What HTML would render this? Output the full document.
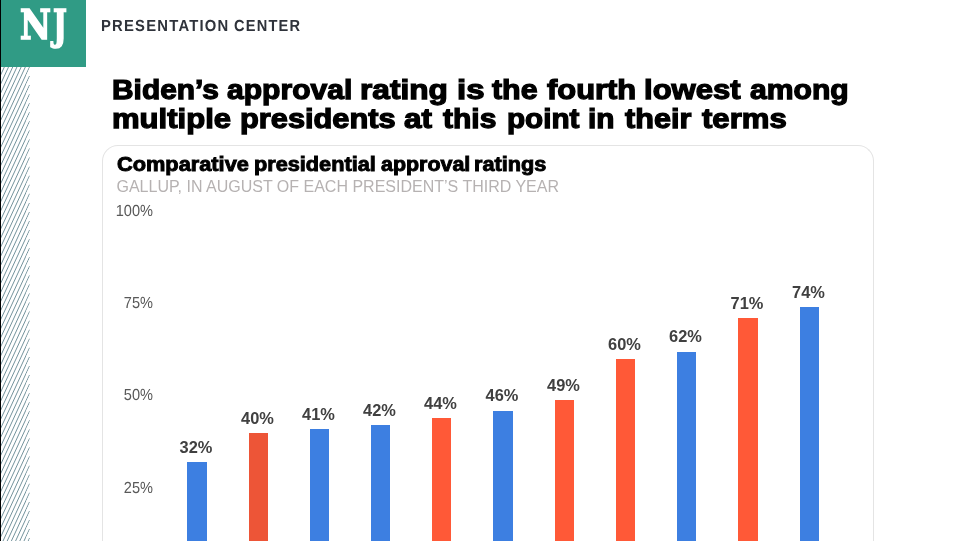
<!DOCTYPE html>
<html lang="en">
<head>
<meta charset="utf-8">
<title>Presentation Center</title>
<style>
html,body{margin:0;padding:0;}
html{width:961px;height:541px;overflow:hidden;}
body{width:961px;height:541px;overflow:hidden;background:#fff;position:relative;font-family:"Liberation Sans",Arial,sans-serif;}
.abs{position:absolute;}
#edge{left:0;top:0;width:1px;height:541px;background:#000;}
#hatch{left:0;top:67px;width:31px;height:474px;}
#logo{left:1px;top:0;width:85px;height:67px;background:#309b85;}
.nj{position:absolute;top:0;color:#fff;font:bold 41.5px/50px 'DejaVu Serif Condensed','DejaVu Serif','Liberation Serif',serif;-webkit-text-stroke:1.6px #fff;transform-origin:0 0;white-space:nowrap;}
.pc{position:absolute;top:15.5px;font:bold 16px/20px 'Liberation Sans',Arial,sans-serif;color:#2f333b;letter-spacing:1.3px;white-space:nowrap;transform-origin:0 0;}
.tw{position:absolute;white-space:nowrap;font:bold 27.5px/28.8px 'Liberation Sans',Arial,sans-serif;color:#000;-webkit-text-stroke:1.25px #000;transform-origin:0 0;}
#card{left:102px;top:145px;width:772px;height:396px;border:1px solid #e4e4e4;border-bottom:none;border-radius:16px 16px 0 0;box-sizing:border-box;}
.cw{position:absolute;white-space:nowrap;font:bold 19.6px/24px 'Liberation Sans',Arial,sans-serif;color:#000;-webkit-text-stroke:0.9px #000;transform-origin:0 0;}
#csub{left:116.5px;top:177px;font-size:16px;line-height:20px;color:#b6b2b2;white-space:nowrap;}
.yl{left:100px;width:53px;text-align:right;font-size:16.1px;line-height:16px;color:#595959;transform-origin:100% 50%;transform:scaleX(0.905) rotate(0.03deg);}
.bar{width:20px;bottom:0;}
.b{background:#3d7fe1;}
.r{background:#ff5937;}
.r2{background:#ed5537;}
.v{width:60px;text-align:center;font-size:16.4px;line-height:18px;font-weight:bold;color:#404040;}
</style>
</head>
<body>
<div id="hatch" class="abs">
<svg width="31" height="474" viewBox="0 0 31 474">
<defs><clipPath id="hc"><polygon points="0,0 30.08,0.00 25.88,9.06 30.08,9.06 25.88,18.12 30.08,18.12 25.88,27.18 30.08,27.18 25.88,36.24 30.08,36.24 25.88,45.30 30.08,45.30 25.88,54.36 30.08,54.36 25.88,63.42 30.08,63.42 25.88,72.48 30.08,72.48 25.88,81.54 30.08,81.54 25.88,90.60 30.08,90.60 25.88,99.66 30.08,99.66 25.88,108.72 30.08,108.72 25.88,117.78 30.08,117.78 25.88,126.84 30.08,126.84 25.88,135.90 30.08,135.90 25.88,144.96 30.08,144.96 25.88,154.02 30.08,154.02 25.88,163.08 30.08,163.08 25.88,172.14 30.08,172.14 25.88,181.20 30.08,181.20 25.88,190.26 30.08,190.26 25.88,199.32 30.08,199.32 25.88,208.38 30.08,208.38 25.88,217.44 30.08,217.44 25.88,226.50 30.08,226.50 25.88,235.56 30.08,235.56 25.88,244.62 30.08,244.62 25.88,253.68 30.08,253.68 25.88,262.74 30.08,262.74 25.88,271.80 30.08,271.80 25.88,280.86 30.08,280.86 25.88,289.92 30.08,289.92 25.88,298.98 30.08,298.98 25.88,308.04 30.08,308.04 25.88,317.10 30.08,317.10 25.88,326.16 30.08,326.16 25.88,335.22 30.08,335.22 25.88,344.28 30.08,344.28 25.88,353.34 30.08,353.34 25.88,362.40 30.08,362.40 25.88,371.46 30.08,371.46 25.88,380.52 30.08,380.52 25.88,389.58 30.08,389.58 25.88,398.64 30.08,398.64 25.88,407.70 30.08,407.70 25.88,416.76 30.08,416.76 25.88,425.82 30.08,425.82 25.88,434.88 30.08,434.88 25.88,443.94 30.08,443.94 25.88,453.00 30.08,453.00 25.88,462.06 30.08,462.06 25.88,471.12 30.08,471.12 25.88,480.18 0,480.18"/></clipPath></defs>
<path clip-path="url(#hc)" d="M0.13 0L-219.61 474M4.33 0L-215.41 474M8.53 0L-211.21 474M12.73 0L-207.01 474M16.93 0L-202.81 474M21.13 0L-198.61 474M25.33 0L-194.41 474M29.53 0L-190.21 474M33.73 0L-186.01 474M37.93 0L-181.81 474M42.13 0L-177.61 474M46.33 0L-173.41 474M50.53 0L-169.21 474M54.73 0L-165.01 474M58.93 0L-160.81 474M63.13 0L-156.61 474M67.33 0L-152.41 474M71.53 0L-148.21 474M75.73 0L-144.01 474M79.93 0L-139.81 474M84.13 0L-135.61 474M88.33 0L-131.41 474M92.53 0L-127.21 474M96.73 0L-123.01 474M100.93 0L-118.81 474M105.13 0L-114.61 474M109.33 0L-110.41 474M113.53 0L-106.21 474M117.73 0L-102.01 474M121.93 0L-97.81 474M126.13 0L-93.61 474M130.33 0L-89.41 474M134.53 0L-85.21 474M138.73 0L-81.01 474M142.93 0L-76.81 474M147.13 0L-72.61 474M151.33 0L-68.41 474M155.53 0L-64.21 474M159.73 0L-60.01 474M163.93 0L-55.81 474M168.13 0L-51.61 474M172.33 0L-47.41 474M176.53 0L-43.21 474M180.73 0L-39.01 474M184.93 0L-34.81 474M189.13 0L-30.61 474M193.33 0L-26.41 474M197.53 0L-22.21 474M201.73 0L-18.01 474M205.93 0L-13.81 474M210.13 0L-9.61 474M214.33 0L-5.41 474M218.53 0L-1.21 474M222.73 0L2.99 474M226.93 0L7.19 474M231.13 0L11.39 474M235.33 0L15.59 474M239.53 0L19.79 474M243.73 0L23.99 474M247.93 0L28.19 474" stroke="#456f7b" stroke-width="0.75" fill="none"/>
</svg>
</div>
<div id="edge" class="abs"></div>
<div id="logo" class="abs"></div>
<div id="nj"><span class="nj" style="left:19.74px;transform:scaleX(0.9052)">N</span><span class="nj" style="left:52.76px;transform:scaleX(0.7827)">J</span></div>
<div id="pc"><span class="pc" style="left:101.09px;transform:scale(0.9272,1) rotate(0.03deg)">PRESENTATION</span> <span class="pc" style="left:234.24px;transform:scale(0.9137,1) rotate(0.03deg)">CENTER</span></div>
<div id="title">
<span class="tw" style="left:112.39px;top:76.4px;transform:scaleX(1.0864)">Biden’s</span>
<span class="tw" style="left:226.76px;top:76.4px;transform:scaleX(1.0929)">approval</span>
<span class="tw" style="left:360.42px;top:76.4px;transform:scaleX(1.1496)">rating</span>
<span class="tw" style="left:456.65px;top:76.4px;transform:scaleX(1.1986)">is</span>
<span class="tw" style="left:492.42px;top:76.4px;transform:scaleX(1.1042)">the</span>
<span class="tw" style="left:547.18px;top:76.4px;transform:scaleX(1.1228)">fourth</span>
<span class="tw" style="left:643.54px;top:76.4px;transform:scaleX(1.1303)">lowest</span>
<span class="tw" style="left:749.76px;top:76.4px;transform:scaleX(1.0949)">among</span>
<span class="tw" style="left:112.35px;top:105.2px;transform:scaleX(1.1291)">multiple</span>
<span class="tw" style="left:239.75px;top:105.2px;transform:scaleX(1.1189)">presidents</span>
<span class="tw" style="left:403.75px;top:105.2px;transform:scaleX(1.1433)">at</span>
<span class="tw" style="left:442.92px;top:105.2px;transform:scaleX(1.0919)">this</span>
<span class="tw" style="left:506.80px;top:105.2px;transform:scaleX(1.0779)">point</span>
<span class="tw" style="left:588.30px;top:105.2px;transform:scaleX(1.0824)">in</span>
<span class="tw" style="left:624.53px;top:105.2px;transform:scaleX(1.1126)">their</span>
<span class="tw" style="left:701.93px;top:105.2px;transform:scaleX(1.1310)">terms</span>
</div>
<div id="card" class="abs"></div>
<div id="ctitle">
<span class="cw" style="left:116.52px;top:152px;transform:scaleX(1.1110)">Comparative</span>
<span class="cw" style="left:254.43px;top:152px;transform:scaleX(1.1074)">presidential</span>
<span class="cw" style="left:380.65px;top:152px;transform:scaleX(1.0931)">approval</span>
<span class="cw" style="left:474.44px;top:152px;transform:scaleX(1.1066)">ratings</span>
</div>
<div id="csub" class="abs">GALLUP, IN AUGUST OF EACH PRESIDENT’S THIRD YEAR</div>
<div class="abs yl" style="top:202px">100%</div>
<div class="abs yl" style="top:294px">75%</div>
<div class="abs yl" style="top:386px">50%</div>
<div class="abs yl" style="top:479px">25%</div>

<div class="abs bar b" style="left:187px;width:20px;top:462px"></div>
<div class="abs bar r2" style="left:249px;width:19px;top:433px"></div>
<div class="abs bar b" style="left:310px;width:19px;top:429px"></div>
<div class="abs bar b" style="left:371px;width:19px;top:425px"></div>
<div class="abs bar r" style="left:432px;width:19px;top:418px"></div>
<div class="abs bar b" style="left:493px;width:20px;top:411px"></div>
<div class="abs bar r" style="left:555px;width:19px;top:400px"></div>
<div class="abs bar r" style="left:616px;width:19px;top:359px"></div>
<div class="abs bar b" style="left:677px;width:19px;top:352px"></div>
<div class="abs bar r" style="left:738px;width:20px;top:318px"></div>
<div class="abs bar b" style="left:800px;width:19px;top:307px"></div>

<div class="abs v" style="left:166.0px;top:438px">32%</div>
<div class="abs v" style="left:227.5px;top:409px">40%</div>
<div class="abs v" style="left:288.5px;top:405px">41%</div>
<div class="abs v" style="left:349.5px;top:401px">42%</div>
<div class="abs v" style="left:410.5px;top:394px">44%</div>
<div class="abs v" style="left:472.0px;top:386px">46%</div>
<div class="abs v" style="left:533.5px;top:376px">49%</div>
<div class="abs v" style="left:594.5px;top:335px">60%</div>
<div class="abs v" style="left:655.5px;top:327px">62%</div>
<div class="abs v" style="left:717.0px;top:294px">71%</div>
<div class="abs v" style="left:778.5px;top:283px">74%</div>
</body>
</html>
